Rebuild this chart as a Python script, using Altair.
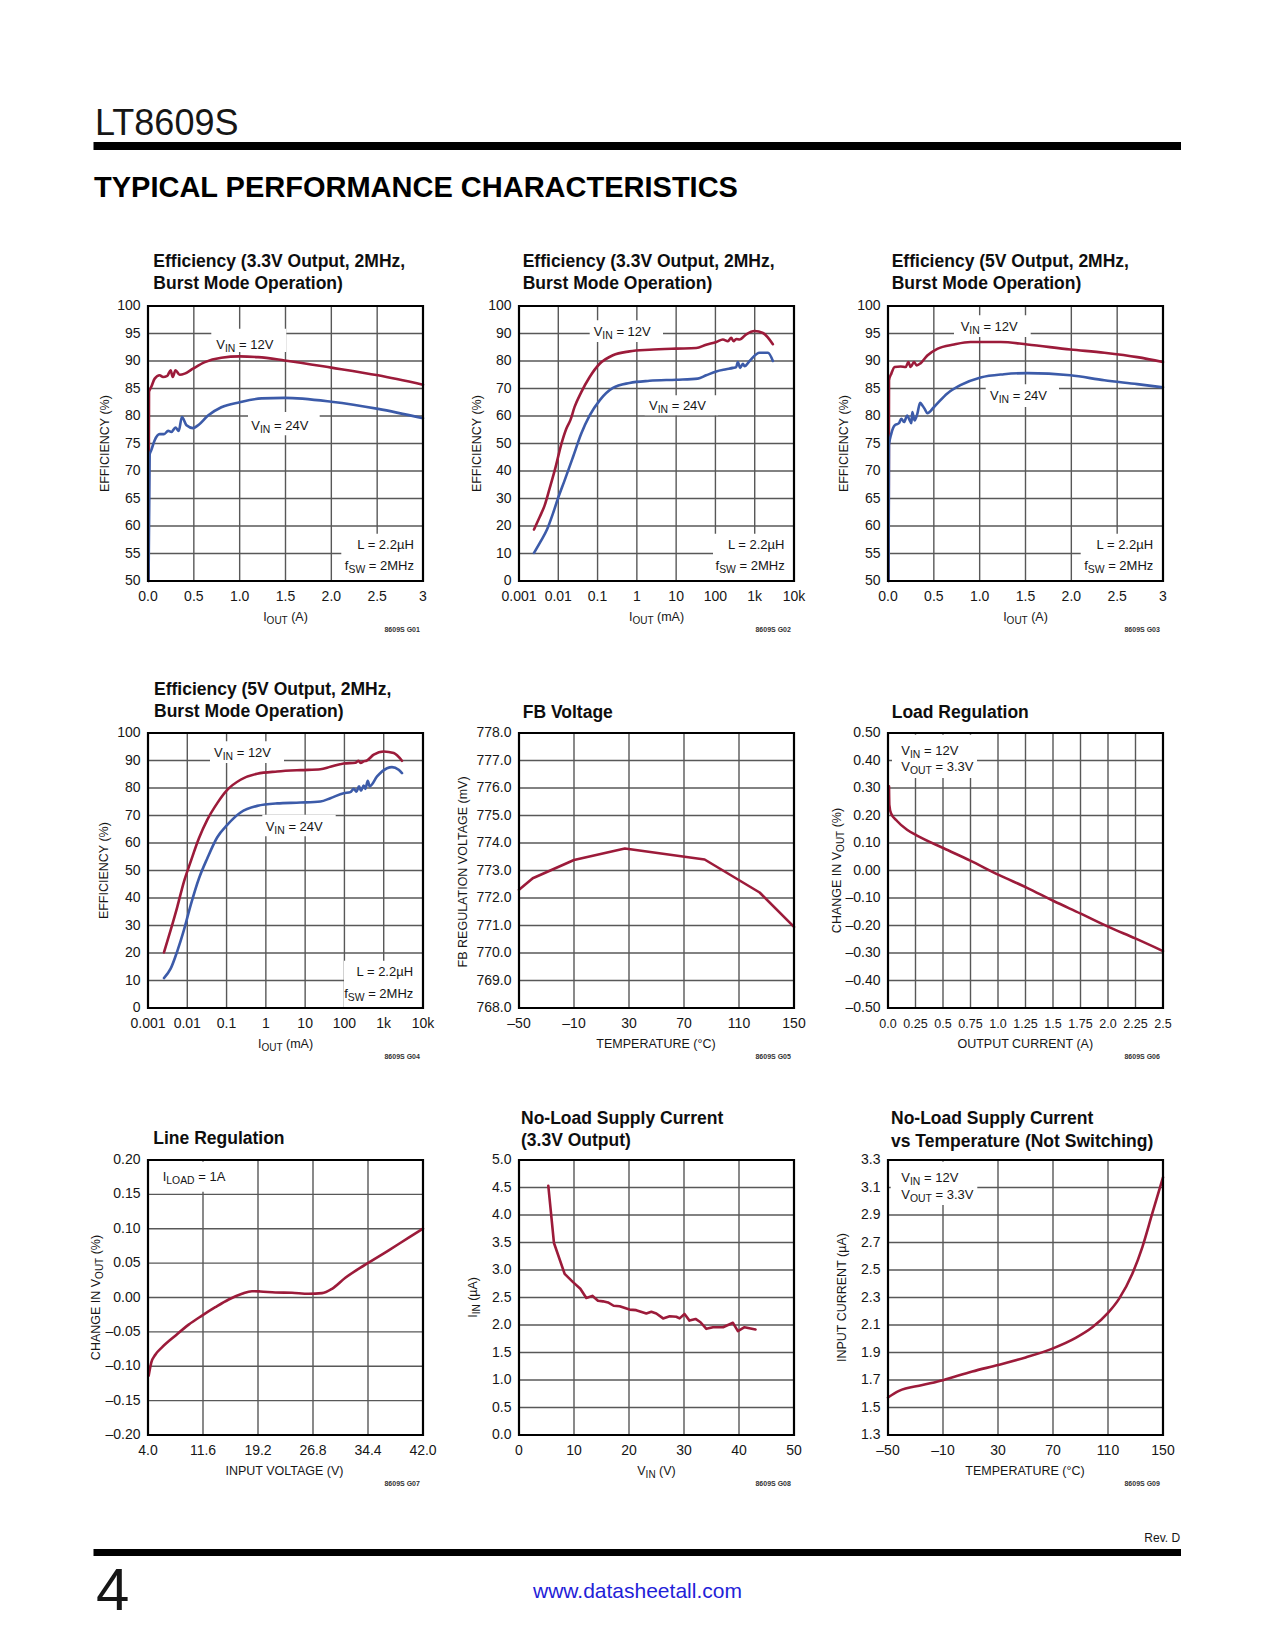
import re
import altair as alt
import pandas as pd

# ---------------- data ----------------
# G01 Efficiency (3.3V Output, 2MHz) linear IOUT (A)
G01_I12 = [0.006, 0.011, 0.036, 0.073, 0.127, 0.164, 0.21, 0.247, 0.27, 0.30, 0.345, 0.40, 0.49, 0.62, 0.80, 1.0, 1.2, 1.49, 2.0, 2.51, 3.0]
G01_E12 = [50, 84.4, 85.3, 86.8, 87.4, 87.1, 87.3, 88.3, 87.1, 88.3, 87.5, 87.7, 88.6, 89.8, 90.6, 90.85, 90.7, 90.1, 88.8, 87.4, 85.7]
G01_I24 = [0.006, 0.018, 0.036, 0.073, 0.127, 0.175, 0.22, 0.255, 0.30, 0.335, 0.37, 0.42, 0.49, 0.545, 0.655, 0.80, 1.0, 1.24, 1.49, 2.0, 2.51, 3.0]
G01_E24 = [50, 73.0, 73.8, 75.6, 76.7, 76.7, 77.3, 77.1, 77.9, 77.3, 79.8, 78.3, 77.8, 78.3, 80.1, 81.6, 82.5, 83.2, 83.3, 82.6, 81.3, 79.6]

# G02 Efficiency (3.3V Output, 2MHz) log IOUT (mA)
G02_I12 = [0.00241, 0.00336, 0.0045, 0.006, 0.00857, 0.0119, 0.016, 0.0202, 0.026, 0.0385, 0.063, 0.113, 0.246, 0.65, 2.1, 10, 32.4, 58, 105, 155, 208, 252, 288, 338, 412, 609, 993, 1620, 2900]
G02_E12 = [18.7, 23.3, 27.5, 33.6, 41.5, 49.7, 55.4, 58.4, 63.3, 68.7, 74.2, 79.0, 82.1, 83.5, 84.1, 84.5, 84.7, 85.9, 86.9, 87.8, 87.2, 88.4, 87.2, 88.0, 87.8, 89.7, 90.9, 90.2, 86.1]
G02_I24 = [0.00241, 0.0035, 0.00516, 0.0073, 0.0098, 0.0145, 0.0237, 0.0385, 0.063, 0.113, 0.246, 0.65, 2.1, 10, 35.5, 58, 105, 188, 279, 338, 372, 427, 500, 552, 740, 1330, 2170, 2900]
G02_E24 = [10.2, 14.2, 18.7, 24.5, 30, 36.6, 45.1, 53.6, 60.2, 65.7, 70.2, 72.0, 72.8, 73.2, 73.6, 74.8, 76.2, 77.0, 77.5, 77.8, 79.6, 77.5, 79.0, 78.1, 80.0, 83.0, 83.0, 80.0]

# G03 Efficiency (5V Output, 2MHz) linear IOUT (A)
G03_I12 = [0.006, 0.011, 0.036, 0.073, 0.138, 0.193, 0.222, 0.247, 0.284, 0.313, 0.356, 0.429, 0.538, 0.72, 0.90, 1.23, 1.52, 1.99, 2.36, 2.72, 3.0]
G03_E12 = [50, 86.5, 87.7, 88.9, 89.0, 88.9, 89.8, 88.9, 89.8, 89.2, 89.6, 91.0, 92.2, 93.0, 93.45, 93.45, 93.0, 92.1, 91.5, 90.7, 89.8]
G03_I24 = [0.006, 0.011, 0.036, 0.073, 0.12, 0.145, 0.175, 0.21, 0.229, 0.255, 0.265, 0.29, 0.32, 0.35, 0.375, 0.40, 0.43, 0.50, 0.647, 0.79, 1.01, 1.265, 1.52, 1.99, 2.36, 2.72, 3.0]
G03_E24 = [50, 74.7, 76.8, 78.3, 78.7, 79.5, 78.9, 80.1, 79.5, 78.7, 80.7, 79.2, 80.4, 82.4, 81.9, 81.3, 80.5, 81.6, 84.1, 85.6, 87.0, 87.6, 87.8, 87.4, 86.5, 85.8, 85.2]

# G04 Efficiency (5V Output, 2MHz) log IOUT (mA)
G04_I12 = [0.00255, 0.00377, 0.00557, 0.0082, 0.0122, 0.0198, 0.0322, 0.058, 0.104, 0.227, 0.602, 1.94, 7.6, 24.5, 44, 96, 190, 230, 257, 310, 363, 557, 1000, 1800, 2920]
G04_E12 = [20.2, 28.3, 36.8, 45.9, 53.2, 61.7, 68.4, 74.5, 79.3, 83.0, 85.2, 86.0, 86.5, 86.8, 87.7, 88.9, 89.2, 89.9, 89.1, 89.7, 89.9, 92.1, 93.3, 92.7, 89.9]
G04_I24 = [0.00255, 0.00377, 0.00557, 0.0082, 0.0122, 0.0198, 0.0322, 0.058, 0.104, 0.227, 0.602, 1.94, 7.6, 24.5, 44, 96, 142, 173, 202, 236, 264, 310, 342, 392, 440, 677, 1216, 1625, 2400, 2920]
G04_E24 = [10.9, 14.3, 20.7, 28.3, 37.4, 47.1, 54.4, 62.1, 66.6, 71.1, 73.5, 74.4, 74.7, 75.1, 76.3, 78.1, 78.5, 79.7, 78.7, 80.6, 79.0, 80.9, 79.7, 82.6, 80.6, 84.2, 87.2, 87.6, 86.6, 85.4]

# G05 FB Voltage vs temperature
G05_T = [-50, -40, -10, 27, 85, 125, 150]
G05_V = [772.3, 772.72, 773.38, 773.8, 773.4, 772.2, 770.95]

# G06 Load regulation
G06_I = [0.009, 0.012, 0.027, 0.082, 0.173, 0.264, 0.506, 0.748, 1.006, 1.264, 1.506, 1.748, 2.006, 2.248, 2.5]
G06_D = [0.306, 0.239, 0.208, 0.180, 0.148, 0.127, 0.081, 0.036, -0.016, -0.063, -0.111, -0.156, -0.205, -0.247, -0.293]

# G07 Line regulation
G07_V = [4.09, 4.46, 5.01, 5.93, 7.78, 9.62, 11.46, 13.3, 15.15, 16.99, 18.37, 19.52, 21.6, 23.9, 26.2, 28.04, 29.43, 31.27, 34.03, 37.26, 40.02, 42]
G07_D = [-0.1139, -0.0944, -0.0832, -0.0725, -0.0555, -0.0394, -0.0263, -0.0141, -0.0029, 0.0054, 0.0092, 0.0088, 0.0073, 0.0068, 0.0054, 0.0063, 0.0127, 0.0287, 0.0477, 0.0686, 0.0871, 0.1002]

# G08 No-load supply current vs VIN
G08_V = [5.33, 6.36, 8.3, 9.82, 11.15, 12.24, 13.33, 14.36, 15.27, 16.18, 17.2, 18.3, 20.1, 21.3, 23.15, 24.06, 24.97, 26.2, 27.4, 28.6, 29.2, 30.1, 31.0, 32.1, 33.0, 34.06, 35.27, 37.1, 38.9, 39.8, 41.0, 43.0]
G08_I = [4.53, 3.49, 2.93, 2.78, 2.66, 2.49, 2.53, 2.44, 2.43, 2.41, 2.35, 2.34, 2.28, 2.27, 2.21, 2.24, 2.21, 2.12, 2.16, 2.15, 2.12, 2.2, 2.08, 2.11, 2.05, 1.93, 1.96, 1.96, 2.04, 1.89, 1.96, 1.92]

# G09 No-load supply current vs temperature
G09_T = [-50, -42, -25, -10, 11.3, 30, 50.1, 70, 86.5, 98.6, 110, 118, 127.7, 135, 142.2, 150]
G09_I = [1.573, 1.621, 1.663, 1.699, 1.762, 1.809, 1.864, 1.930, 2.006, 2.083, 2.188, 2.29, 2.473, 2.667, 2.911, 3.174]

# ---------------- tick values / labels ----------------
EFF_LIN_X = [0, 0.5, 1, 1.5, 2, 2.5, 3]
EFF_LIN_XL = ["0.0", "0.5", "1.0", "1.5", "2.0", "2.5", "3"]
EFF_LIN_Y = [50, 55, 60, 65, 70, 75, 80, 85, 90, 95, 100]
EFF_LIN_YL = ["50", "55", "60", "65", "70", "75", "80", "85", "90", "95", "100"]
LOG_X = [0.001, 0.01, 0.1, 1, 10, 100, 1000, 10000]
LOG_XL = ["0.001", "0.01", "0.1", "1", "10", "100", "1k", "10k"]
EFF_LOG_Y = [0, 10, 20, 30, 40, 50, 60, 70, 80, 90, 100]
EFF_LOG_YL = ["0", "10", "20", "30", "40", "50", "60", "70", "80", "90", "100"]
TEMP_X = [-50, -10, 30, 70, 110, 150]
TEMP_XL = ["–50", "–10", "30", "70", "110", "150"]
FB_Y = [768, 769, 770, 771, 772, 773, 774, 775, 776, 777, 778]
FB_YL = ["768.0", "769.0", "770.0", "771.0", "772.0", "773.0", "774.0", "775.0", "776.0", "777.0", "778.0"]
LOAD_X = [0, 0.25, 0.5, 0.75, 1.0, 1.25, 1.5, 1.75, 2.0, 2.25, 2.5]
LOAD_XL = ["0.0", "0.25", "0.5", "0.75", "1.0", "1.25", "1.5", "1.75", "2.0", "2.25", "2.5"]
LOAD_Y = [-0.5, -0.4, -0.3, -0.2, -0.1, 0, 0.1, 0.2, 0.3, 0.4, 0.5]
LOAD_YL = ["–0.50", "–0.40", "–0.30", "–0.20", "–0.10", "0.00", "0.10", "0.20", "0.30", "0.40", "0.50"]
LINE_X = [4, 11.6, 19.2, 26.8, 34.4, 42]
LINE_XL = ["4.0", "11.6", "19.2", "26.8", "34.4", "42.0"]
LINE_Y = [-0.2, -0.15, -0.1, -0.05, 0, 0.05, 0.1, 0.15, 0.2]
LINE_YL = ["–0.20", "–0.15", "–0.10", "–0.05", "0.00", "0.05", "0.10", "0.15", "0.20"]
NL_X = [0, 10, 20, 30, 40, 50]
NL_XL = ["0", "10", "20", "30", "40", "50"]
NL_Y = [0, 0.5, 1, 1.5, 2, 2.5, 3, 3.5, 4, 4.5, 5]
NL_YL = ["0.0", "0.5", "1.0", "1.5", "2.0", "2.5", "3.0", "3.5", "4.0", "4.5", "5.0"]
NLT_Y = [1.3, 1.5, 1.7, 1.9, 2.1, 2.3, 2.5, 2.7, 2.9, 3.1, 3.3]
NLT_YL = ["1.3", "1.5", "1.7", "1.9", "2.1", "2.3", "2.5", "2.7", "2.9", "3.1", "3.3"]

# ---------------- styling ----------------
FONT = "Liberation Sans, Arial, Helvetica, sans-serif"
RED = "#9c1b3a"
BLUE = "#3c5ba9"
INK = "#161616"
GRID = "#585858"
W = H = 275
ONE = pd.DataFrame({"k": [0]})
COL_LEFT = [148, 519, 888]          # page x of the three plot columns
ROW_TOP = [306, 733, 1160]          # page y of the three plot rows

AR = {' ': 278, '(': 333, ')': 333, '%': 889, ',': 278, '-': 333, '.': 278, '=': 584,
      ':': 278, '°': 400, 'µ': 556, '–': 556}
for ch in "0123456789":
    AR[ch] = 556
AR.update(dict(A=667, B=667, C=722, D=722, E=667, F=611, G=778, H=722, I=278, J=500, K=667, L=556, M=833,
               N=722, O=778, P=667, Q=778, R=722, S=667, T=611, U=722, V=667, W=944, X=667, Y=667, Z=611,
               a=556, b=556, c=500, d=556, e=556, f=278, g=556, h=556, i=222, j=222, k=500, l=222, m=833,
               n=556, o=556, p=556, q=556, r=333, s=500, t=278, u=556, v=500, w=722, x=500, y=500, z=500))


def tw(s, fs, bold=False):
    return sum(AR.get(ch, 556) for ch in s) / 1000.0 * fs * (1.06 if bold else 1.0)


def parse(s):
    parts, pos = [], 0
    for m in re.finditer(r'_\{([^}]*)\}', s):
        if m.start() > pos:
            parts.append((s[pos:m.start()], False))
        parts.append((m.group(1), True))
        pos = m.end()
    if pos < len(s):
        parts.append((s[pos:], False))
    return parts


def rich(s, x, y, fs=13, anchor="left", rotate=False, color=INK, bold=False):
    parts = parse(s)
    sizes = [fs * 0.8 if sub else fs for _, sub in parts]
    widths = [tw(t, f, bold) for (t, _), f in zip(parts, sizes)]
    total = sum(widths)
    cum = {"left": 0.0, "center": -total / 2.0, "right": -total}[anchor]
    rows = []
    for (t, sub), f, w in zip(parts, sizes, widths):
        d = 0.22 * fs if sub else 0.0
        lead = tw(" " * (len(t) - len(t.lstrip(" "))), f, bold)
        txt = t.strip(" ")
        if txt:
            pos = cum + lead
            if rotate:
                rows.append(dict(px=x + d, py=y - pos, t=txt, fs=f, c=color))
            else:
                rows.append(dict(px=x + pos, py=y + d, t=txt, fs=f, c=color))
        cum += w
    return rows


def text_layer(rows, bold=False, angle=0):
    df = pd.DataFrame(rows)
    return alt.Chart(df).mark_text(align="left", baseline="alphabetic", font=FONT,
                                   fontWeight="bold" if bold else "normal", angle=angle).encode(
        x=alt.X("px:Q", scale=None, axis=None),
        y=alt.Y("py:Q", scale=None, axis=None),
        text="t:N",
        size=alt.Size("fs:Q", scale=None, legend=None),
        color=alt.Color("c:N", scale=None, legend=None),
    )


def pix_rect(x1, x2, y1, y2, color="white", opacity=1.0):
    return alt.Chart(ONE).mark_rect(color=color, opacity=opacity).encode(
        x=alt.value(x1), x2=alt.value(x2), y=alt.value(y1), y2=alt.value(y2))


def make_scale(kind, lo, hi):
    if kind == "log":
        return alt.Scale(type="log", domain=[lo, hi], nice=False)
    return alt.Scale(type="linear", domain=[lo, hi], nice=False, zero=False)


def panel(p, col, extra_bottom=None, extra_top=None):
    xk, xlo, xhi = p["xs"]
    yk, ylo, yhi = p["ys"]
    xs, ys = make_scale(xk, xlo, xhi), make_scale(yk, ylo, yhi)
    xv, xl = p["xt"]
    yv, yl = p["yt"]
    layers = []
    if extra_bottom is not None:
        layers += extra_bottom
    # grid lines through the data scales
    layers.append(alt.Chart(pd.DataFrame({"v": xv})).mark_rule(color=GRID, strokeWidth=1.4).encode(
        x=alt.X("v:Q", scale=xs, axis=None), y=alt.value(0), y2=alt.value(H)))
    layers.append(alt.Chart(pd.DataFrame({"v": yv})).mark_rule(color=GRID, strokeWidth=1.4).encode(
        y=alt.Y("v:Q", scale=ys, axis=None), x=alt.value(0), x2=alt.value(W)))
    # white label boxes that interrupt the grid
    for b in p.get("boxes", []):
        layers.append(pix_rect(*b))
    # data lines
    for sx, sy, colr in p["series"]:
        df = pd.DataFrame({"x": sx, "y": sy, "i": list(range(len(sx)))})
        layers.append(alt.Chart(df).mark_line(color=colr, strokeWidth=2.6, interpolate=p["interp"],
                                              strokeJoin="round", strokeCap="round").encode(
            x=alt.X("x:Q", scale=xs, axis=None), y=alt.Y("y:Q", scale=ys, axis=None),
            order="i:Q"))
    # tick labels through the data scales
    layers.append(alt.Chart(pd.DataFrame({"v": xv, "lab": xl})).mark_text(
        font=FONT, fontSize=p.get("xfs", 14), color=INK, align="center", baseline="alphabetic").encode(
        x=alt.X("v:Q", scale=xs, axis=None), y=alt.value(H + 19.5), text="lab:N"))
    layers.append(alt.Chart(pd.DataFrame({"v": yv, "lab": yl})).mark_text(
        font=FONT, fontSize=14, color=INK, align="right", baseline="middle").encode(
        y=alt.Y("v:Q", scale=ys, axis=None), x=alt.value(-7.5), text="lab:N"))
    # texts
    reg, rot, bold = [], [], []
    for s, x, y, anc in p.get("notes", []):
        reg += rich(s, x, y, 13, anc)
    reg += rich(p["xtitle"], W / 2.0, H + 40, 12.5, "center")
    ytxt, yoff = p["ytitle"]
    rot += rich(ytxt, -yoff, H / 2.0, 12.5, "center", rotate=True)
    lines, tx_page, tys = p["title"]
    for ln, ty in zip(lines, tys):
        bold += rich(ln, tx_page - COL_LEFT[col], ty, 17.5, "left", bold=True, color="#0e0e0e")
    bold += rich(p["code"], W - 1, H + 51, 7, "right", bold=True, color="#333333")
    layers.append(text_layer(reg))
    layers.append(text_layer(rot, angle=270))
    layers.append(text_layer(bold, bold=True))
    # frame
    layers.append(alt.Chart(ONE).mark_rect(fillOpacity=0, stroke="black", strokeWidth=2.2).encode(
        x=alt.value(0), x2=alt.value(W), y=alt.value(0), y2=alt.value(H)))
    if extra_top is not None:
        layers += extra_top
    return alt.layer(*layers).properties(width=W, height=H)


T33 = ["Efficiency (3.3V Output, 2MHz,", "Burst Mode Operation)"]
T5 = ["Efficiency (5V Output, 2MHz,", "Burst Mode Operation)"]

P = [
    dict(xs=("linear", 0, 3), ys=("linear", 50, 100), xt=(EFF_LIN_X, EFF_LIN_XL), yt=(EFF_LIN_Y, EFF_LIN_YL),
         series=[(G01_I12, G01_E12, RED), (G01_I24, G01_E24, BLUE)], interp="monotone",
         title=(T33, 153.3, [-39, -17.4]), xtitle="I_{OUT} (A)", ytitle=("EFFICIENCY (%)", 39), code="8609S G01",
         boxes=[(63.3, 138.3, 22.7, 46), (100, 171.7, 106, 129.3), (193.3, 275, 227.7, 275)],
         notes=[("V_{IN} = 12V", 68.3, 42.7, "left"), ("V_{IN} = 24V", 103.3, 123.7, "left"),
                ("L = 2.2µH", 266, 242.7, "right"), ("f_{SW} = 2MHz", 266, 264.3, "right")]),
    dict(xs=("log", 0.001, 10000), ys=("linear", 0, 100), xt=(LOG_X, LOG_XL), yt=(EFF_LOG_Y, EFF_LOG_YL),
         series=[(G02_I12, G02_E12, RED), (G02_I24, G02_E24, BLUE)], interp="monotone",
         title=(T33, 522.7, [-39, -17.4]), xtitle="I_{OUT} (mA)", ytitle=("EFFICIENCY (%)", 38), code="8609S G02",
         boxes=[(70.7, 144, 14.3, 36), (125.7, 199, 89.3, 109.3), (194, 275, 227.7, 275)],
         notes=[("V_{IN} = 12V", 74.7, 30.3, "left"), ("V_{IN} = 24V", 130, 104.3, "left"),
                ("L = 2.2µH", 265.7, 242.7, "right"), ("f_{SW} = 2MHz", 265.7, 264.3, "right")]),
    dict(xs=("linear", 0, 3), ys=("linear", 50, 100), xt=(EFF_LIN_X, EFF_LIN_XL), yt=(EFF_LIN_Y, EFF_LIN_YL),
         series=[(G03_I12, G03_E12, RED), (G03_I24, G03_E24, BLUE)], interp="monotone",
         title=(T5, 891.7, [-39, -17.4]), xtitle="I_{OUT} (A)", ytitle=("EFFICIENCY (%)", 39.6), code="8609S G03",
         boxes=[(66, 142.7, 9.3, 31), (97.7, 171, 78.3, 101), (192.7, 275, 227.7, 275)],
         notes=[("V_{IN} = 12V", 72.7, 25, "left"), ("V_{IN} = 24V", 102, 94.3, "left"),
                ("L = 2.2µH", 265.3, 242.7, "right"), ("f_{SW} = 2MHz", 265.3, 264.3, "right")]),
    dict(xs=("log", 0.001, 10000), ys=("linear", 0, 100), xt=(LOG_X, LOG_XL), yt=(EFF_LOG_Y, EFF_LOG_YL),
         series=[(G04_I12, G04_E12, RED), (G04_I24, G04_E24, BLUE)], interp="monotone",
         title=(T5, 154, [-37.7, -15.7]), xtitle="I_{OUT} (mA)", ytitle=("EFFICIENCY (%)", 39.7), code="8609S G04",
         boxes=[(62, 136, 8.3, 30), (114.3, 187.7, 81.7, 103.3), (196, 275, 227.7, 275)],
         notes=[("V_{IN} = 12V", 66, 24.3, "left"), ("V_{IN} = 24V", 117.7, 97.7, "left"),
                ("L = 2.2µH", 265.3, 243.3, "right"), ("f_{SW} = 2MHz", 265.3, 265, "right")]),
    dict(xs=("linear", -50, 150), ys=("linear", 768, 778), xt=(TEMP_X, TEMP_XL), yt=(FB_Y, FB_YL),
         series=[(G05_T, G05_V, RED)], interp="linear",
         title=(["FB Voltage"], 522.7, [-15]), xtitle="TEMPERATURE (°C)",
         ytitle=("FB REGULATION VOLTAGE (mV)", 52), code="8609S G05"),
    dict(xs=("linear", 0, 2.5), ys=("linear", -0.5, 0.5), xt=(LOAD_X, LOAD_XL), yt=(LOAD_Y, LOAD_YL),
         series=[(G06_I, G06_D, RED)], interp="monotone", xfs=12.5,
         title=(["Load Regulation"], 891.7, [-15]), xtitle="OUTPUT CURRENT (A)",
         ytitle=("CHANGE IN V_{OUT} (%)", 47), code="8609S G06",
         boxes=[(4, 89, 1.7, 45)],
         notes=[("V_{IN} = 12V", 13.3, 21.7, "left"), ("V_{OUT} = 3.3V", 13.3, 38.3, "left")]),
    dict(xs=("linear", 4, 42), ys=("linear", -0.2, 0.2), xt=(LINE_X, LINE_XL), yt=(LINE_Y, LINE_YL),
         series=[(G07_V, G07_D, RED)], interp="monotone",
         title=(["Line Regulation"], 153.3, [-15.7]), xtitle="INPUT VOLTAGE (V)",
         ytitle=("CHANGE IN V_{OUT} (%)", 47.7), code="8609S G07",
         boxes=[(4, 84, 1.7, 31.7)],
         notes=[("I_{LOAD} = 1A", 14.7, 21, "left")]),
    dict(xs=("linear", 0, 50), ys=("linear", 0, 5), xt=(NL_X, NL_XL), yt=(NL_Y, NL_YL),
         series=[(G08_V, G08_I, RED)], interp="linear",
         title=(["No-Load Supply Current", "(3.3V Output)"], 521, [-36.3, -14]), xtitle="V_{IN} (V)",
         ytitle=("I_{IN} (µA)", 42), code="8609S G08"),
    dict(xs=("linear", -50, 150), ys=("linear", 1.3, 3.3), xt=(TEMP_X, TEMP_XL), yt=(NLT_Y, NLT_YL),
         series=[(G09_T, G09_I, RED)], interp="monotone",
         title=(["No-Load Supply Current", "vs Temperature (Not Switching)"], 891, [-36, -13.5]),
         xtitle="TEMPERATURE (°C)", ytitle=("INPUT CURRENT (µA)", 41.7), code="8609S G09",
         boxes=[(2.7, 89.3, 1.7, 45)],
         notes=[("V_{IN} = 12V", 13.3, 21.7, "left"), ("V_{OUT} = 3.3V", 13.3, 39, "left")]),
]

# ---------------- page furniture (relative to panel 1 plot origin) ----------------
OX, OY = COL_LEFT[0], ROW_TOP[0]
page_bounds = pix_rect(-OX, 1275 - OX, -OY, 1650 - OY, color="white", opacity=0.0)
rules = [pix_rect(93.5 - OX, 1181 - OX, 142 - OY, 150 - OY, color="black"),
         pix_rect(93.5 - OX, 1181 - OX, 1549 - OY, 1556 - OY, color="black")]
head_reg = []
head_reg += rich("LT8609S", 95 - OX, 135 - OY, 36)
head_reg += rich("Rev. D", 1181 - OX, 1542 - OY, 12, "right")
head_reg += rich("4", 96 - OX, 1609.6 - OY, 60)
head_reg += rich("www.datasheetall.com", 638 - OX, 1598 - OY, 21, "center", color="#1f22d8")
head_bold = rich("TYPICAL PERFORMANCE CHARACTERISTICS", 94 - OX, 196.7 - OY, 29, bold=True, color="#000000")
furniture = rules + [text_layer(head_reg), text_layer(head_bold, bold=True)]

panels = [panel(P[0], 0, extra_bottom=[page_bounds], extra_top=furniture)] + \
         [panel(p, i % 3) for i, p in enumerate(P) if i > 0]


def spacer(w, h):
    return alt.Chart(ONE).mark_point(opacity=0).encode(x=alt.value(0), y=alt.value(0)).properties(width=w, height=h)


GAP1 = COL_LEFT[1] - COL_LEFT[0] - W
GAP2 = COL_LEFT[2] - COL_LEFT[1] - W
cells = []
for r in range(3):
    cells += [spacer(68, H), panels[3 * r], spacer(GAP1, H), panels[3 * r + 1], spacer(GAP2, H), panels[3 * r + 2]]

chart = alt.concat(*cells, columns=6, spacing={"row": ROW_TOP[1] - ROW_TOP[0] - H, "column": 0},
                   bounds="flush").properties(padding=0, background="white").configure_view(stroke=None)

chart.save("out.html", embed_options={"renderer": "svg", "actions": False})
